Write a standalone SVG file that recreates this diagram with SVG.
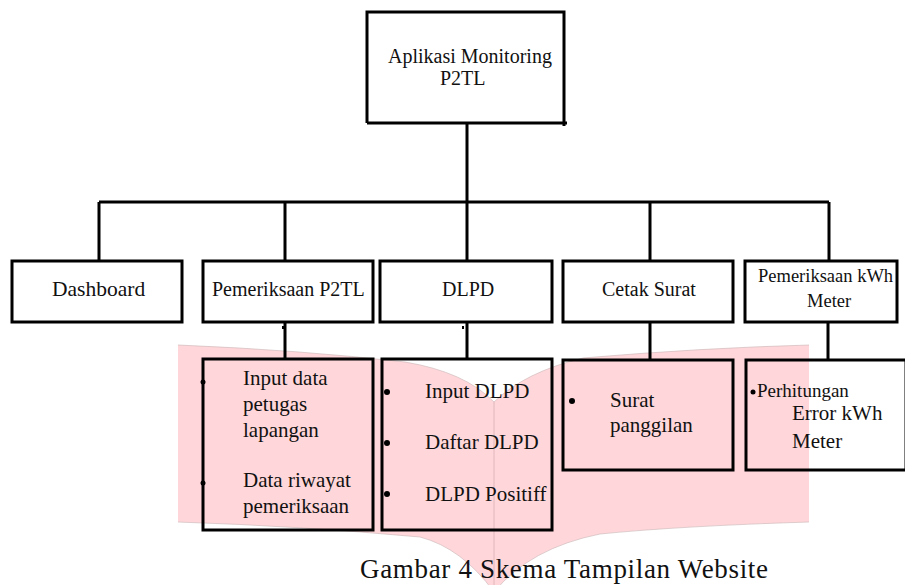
<svg xmlns="http://www.w3.org/2000/svg" width="905" height="585" viewBox="0 0 905 585">
<style>
.box{fill:none;stroke:#000;stroke-width:3}
.ln{fill:none;stroke:#000;stroke-width:3}
.t{font-family:"Liberation Serif","Times New Roman",serif;fill:#111;font-size:20px}
.s{font-size:21px}
.b{fill:#000}
</style>
<rect width="905" height="585" fill="#fff"/>
<g id="background-shape">
<path d="M178,345 Q300,350 405,362 Q465,372 494,402 Q525,372 583,358 Q700,348 809,345 L809,522 Q680,526 600,534 Q530,548 494,592 Q462,548 420,537 Q300,526 178,522 Z" fill="#ffd7da"/>
<path d="M178,345 Q300,350 405,362 Q465,372 494,402 Q525,372 583,358 Q700,348 809,345" fill="none" stroke="#c9b4b6" stroke-width="1" opacity="0.6"/>
<path d="M809,522 Q680,526 600,534 Q530,548 494,592 Q462,548 420,537 Q300,526 178,522" fill="none" stroke="#c9b4b6" stroke-width="1" opacity="0.6"/>
<line x1="494" y1="402" x2="494" y2="585" stroke="#e0b8bc" stroke-width="1"/>
</g>
<g id="connectors">
<path class="ln" d="M467,123 V202 M99,202 H829 M99,202 V261 M285,202 V261 M467,202 V261 M650,202 V261 M829,202 V261"/>
<path class="ln" d="M285,322 V359 M467,322 V359 M650,322 V360 M828,322 V360"/>
<rect x="282" y="326" width="2" height="3" class="b"/>
<rect x="462" y="326" width="2" height="3" class="b"/>
</g>
<g id="root">
<path class="box" d="M367,123 V12 H564 V126 M367,123 H567"/>
<text class="t" x="388" y="63">Aplikasi Monitoring</text>
<text class="t" x="440" y="85">P2TL</text>
</g>
<g id="dashboard">
<rect class="box" x="12" y="261" width="170" height="61"/>
<text class="t" x="52" y="296" style="font-size:21.5px">Dashboard</text>
</g>
<g id="pemeriksaan-p2tl">
<rect class="box" x="203" y="261" width="170" height="61"/>
<text class="t" x="212" y="296">Pemeriksaan P2TL</text>
</g>
<g id="dlpd">
<rect class="box" x="380" y="261" width="172" height="61"/>
<text class="t" x="442" y="296">DLPD</text>
</g>
<g id="cetak-surat">
<rect class="box" x="563" y="261" width="170" height="61"/>
<text class="t" x="602" y="296">Cetak Surat</text>
</g>
<g id="pemeriksaan-kwh">
<rect class="box" x="745" y="261" width="152" height="61"/>
<text class="t" x="758" y="282" style="font-size:18.5px">Pemeriksaan kWh</text>
<text class="t" x="807" y="307" style="font-size:18.5px">Meter</text>
</g>
<g id="p2tl-items">
<rect class="box" x="203" y="359" width="170" height="171"/>
<circle class="b" cx="203" cy="382" r="2.5"/>
<circle class="b" cx="203" cy="483" r="2.5"/>
<text class="t s" x="243" y="385">Input data</text>
<text class="t s" x="243" y="411">petugas</text>
<text class="t s" x="243" y="437">lapangan</text>
<text class="t s" x="243" y="487">Data riwayat</text>
<text class="t s" x="243" y="513">pemeriksaan</text>
</g>
<g id="dlpd-items">
<rect class="box" x="382" y="359" width="170" height="171"/>
<circle class="b" cx="387" cy="392" r="3"/>
<circle class="b" cx="387" cy="443" r="3"/>
<circle class="b" cx="387" cy="494" r="3"/>
<text class="t s" x="425" y="398">Input DLPD</text>
<text class="t s" x="425" y="449">Daftar DLPD</text>
<text class="t s" x="425" y="501">DLPD Positiff</text>
</g>
<g id="surat-items">
<rect class="box" x="563" y="360" width="170" height="110"/>
<circle class="b" cx="572" cy="401" r="3"/>
<text class="t s" x="610" y="407">Surat</text>
<text class="t s" x="610" y="432">panggilan</text>
</g>
<g id="kwh-items">
<rect class="box" x="746" y="360" width="160" height="110"/>
<circle class="b" cx="753" cy="392" r="2.5"/>
<text class="t" x="757" y="397" style="font-size:19px">Perhitungan</text>
<text class="t s" x="792" y="420">Error kWh</text>
<text class="t s" x="792" y="448">Meter</text>
</g>
<g id="caption">
<text class="t" x="360" y="578" style="font-size:27px" textLength="408">Gambar 4 Skema Tampilan Website</text>
</g>
</svg>
